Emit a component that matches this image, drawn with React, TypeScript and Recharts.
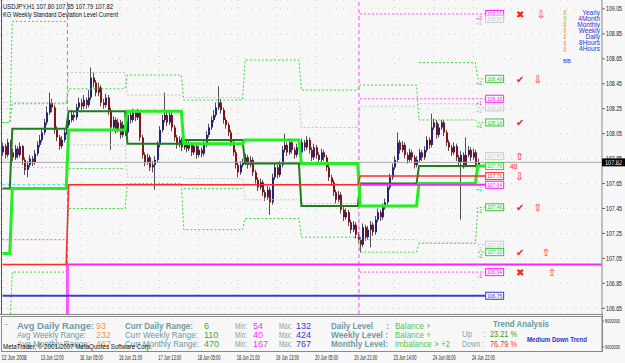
import React from "react";
import {
  ComposedChart,
  Bar,
  Line,
  XAxis,
  YAxis,
  CartesianGrid,
  ReferenceLine,
  ReferenceDot,
} from "recharts";

// USDJPY H1 candles
const closes = [
  107.95, 107.88, 107.98, 107.9, 107.86, 107.93, 107.88, 107.95, 107.84, 107.76,
  107.8, 107.85, 107.82, 107.89, 107.96, 108.0, 108.06, 108.14, 108.22, 108.3,
  108.26, 108.08, 108.02, 107.95, 108.0, 108.06, 108.12, 108.16, 108.2, 108.18,
  108.26, 108.3, 108.27, 108.32, 108.28, 108.34, 108.5, 108.46, 108.38, 108.42,
  108.3, 108.28, 108.34, 108.24, 108.1, 108.16, 108.08, 108.14, 108.04, 108.12,
  108.06, 108.2, 108.16, 108.22, 108.18, 108.22, 108.02, 107.88, 107.82, 107.86,
  107.78, 107.8, 107.84, 107.96, 108.08, 108.16, 108.2, 108.14, 108.2, 108.1,
  108.02, 107.96, 108.0, 107.94, 107.98, 107.93, 107.96, 107.9, 107.95, 107.88,
  107.92, 107.89, 107.96, 108.04, 108.1, 108.16, 108.2, 108.26, 108.3, 108.24,
  108.16, 108.12, 108.06, 107.98, 107.9, 107.8, 107.74, 107.8, 107.82, 107.86,
  107.8, 107.84, 107.74, 107.68, 107.62, 107.66, 107.58, 107.54, 107.6, 107.5,
  107.7, 107.78, 107.72, 107.8, 107.92, 107.96, 107.9, 107.98, 107.92, 107.88,
  107.94, 107.9, 107.98, 107.94, 108.0, 107.92, 107.86, 107.94, 107.88, 107.84,
  107.9, 107.86, 107.78, 107.7, 107.66, 107.58, 107.52, 107.56, 107.44, 107.38,
  107.42, 107.34, 107.28, 107.32, 107.24, 107.2, 107.16, 107.3, 107.22, 107.28,
  107.32, 107.26, 107.36, 107.42, 107.38, 107.46, 107.5, 107.62, 107.7, 107.78,
  107.84, 107.98, 107.92, 107.96, 107.88, 107.84, 107.9, 107.86, 107.8, 107.84,
  107.9, 107.86, 107.92, 108.0, 107.96, 108.1, 108.14, 108.04, 108.1, 108.14,
  108.06, 107.98, 107.94, 107.9, 107.95, 107.86, 107.82, 107.88, 107.8, 107.88,
  107.92, 107.86, 107.9, 107.8, 107.82,
];
const highs = [
  107.98, 107.97, 108.01, 108.0, 107.93, 107.96, 107.95, 107.98, 107.96, 107.86,
  107.83, 107.88, 107.87, 107.92, 107.99, 108.04, 108.09, 108.17, 108.27, 108.38,
  108.33, 108.28, 108.11, 108.04, 108.03, 108.09, 108.15, 108.19, 108.24, 108.23,
  108.29, 108.34, 108.33, 108.36, 108.34, 108.4, 108.58, 108.54, 108.48, 108.46,
  108.44, 108.33, 108.37, 108.36, 108.26, 108.19, 108.18, 108.17, 108.16, 108.15,
  108.14, 108.23, 108.22, 108.25, 108.24, 108.25, 108.24, 108.04, 107.9, 107.89,
  107.88, 107.83, 107.87, 107.99, 108.11, 108.2, 108.38, 108.23, 108.23, 108.22,
  108.12, 108.04, 108.03, 108.02, 108.01, 108.0, 107.99, 107.98, 107.98, 107.97,
  107.95, 107.94, 107.99, 108.07, 108.13, 108.19, 108.24, 108.3, 108.43, 108.33,
  108.26, 108.18, 108.14, 108.08, 108.0, 107.92, 107.82, 107.83, 107.85, 107.89,
  107.88, 107.87, 107.86, 107.76, 107.7, 107.69, 107.68, 107.6, 107.63, 107.62,
  107.73, 107.81, 107.8, 107.83, 107.95, 108.05, 107.98, 108.01, 108.0, 107.94,
  107.97, 107.96, 108.01, 108.0, 108.03, 108.02, 107.94, 107.97, 107.96, 107.9,
  107.93, 107.92, 107.88, 107.8, 107.72, 107.68, 107.6, 107.59, 107.58, 107.46,
  107.45, 107.44, 107.36, 107.35, 107.34, 107.26, 107.22, 107.33, 107.32, 107.31,
  107.35, 107.34, 107.39, 107.45, 107.44, 107.49, 107.53, 107.65, 107.73, 107.81,
  107.87, 108.06, 108.0, 107.99, 107.98, 107.9, 107.93, 107.92, 107.88, 107.87,
  107.93, 107.92, 107.95, 108.03, 108.02, 108.21, 108.17, 108.16, 108.13, 108.16,
  108.16, 108.08, 108.0, 107.96, 107.98, 107.97, 107.88, 107.91, 107.9, 108.02,
  107.95, 107.94, 107.93, 107.92, 107.85,
];
const lows = [
  107.87, 107.85, 107.86, 107.87, 107.83, 107.84, 107.85, 107.86, 107.8, 107.72,
  107.7, 107.78, 107.79, 107.8, 107.87, 107.94, 107.98, 108.04, 108.12, 108.2,
  108.22, 108.05, 107.99, 107.92, 107.93, 107.98, 108.04, 108.1, 108.14, 108.15,
  108.16, 108.24, 108.24, 108.25, 108.25, 108.26, 108.32, 108.42, 108.35, 108.35,
  108.27, 108.25, 108.26, 108.2, 107.92, 108.07, 108.05, 108.06, 108.01, 108.02,
  108.03, 108.04, 108.13, 108.14, 108.15, 108.16, 107.99, 107.85, 107.79, 107.8,
  107.75, 107.74, 107.6, 107.82, 107.94, 108.06, 108.14, 108.11, 108.12, 108.07,
  107.99, 107.93, 107.94, 107.91, 107.92, 107.9, 107.91, 107.87, 107.88, 107.85,
  107.86, 107.86, 107.87, 107.94, 108.02, 108.08, 108.14, 108.18, 108.24, 108.21,
  108.13, 108.09, 108.03, 107.95, 107.87, 107.77, 107.7, 107.72, 107.78, 107.8,
  107.77, 107.78, 107.71, 107.65, 107.59, 107.6, 107.55, 107.51, 107.52, 107.4,
  107.48, 107.68, 107.69, 107.7, 107.78, 107.9, 107.87, 107.88, 107.89, 107.85,
  107.86, 107.87, 107.88, 107.91, 107.92, 107.89, 107.83, 107.84, 107.85, 107.81,
  107.82, 107.83, 107.75, 107.67, 107.63, 107.55, 107.49, 107.5, 107.41, 107.35,
  107.36, 107.31, 107.25, 107.26, 107.21, 107.17, 107.1, 107.14, 107.19, 107.2,
  107.14, 107.23, 107.24, 107.34, 107.35, 107.36, 107.44, 107.48, 107.6, 107.68,
  107.76, 107.82, 107.89, 107.9, 107.85, 107.81, 107.82, 107.83, 107.77, 107.78,
  107.82, 107.83, 107.84, 107.9, 107.93, 107.94, 108.08, 108.01, 108.02, 108.08,
  108.03, 107.95, 107.91, 107.87, 107.88, 107.83, 107.79, 107.36, 107.77, 107.78,
  107.86, 107.83, 107.84, 107.78, 107.79,
];
const firstOpen = 107.9;

// daily levels (one value per day)
const dayStarts = [0, 4, 27, 51, 74, 99, 122, 146, 170, 194];
const brightLevel = [107.09, 107.61, 108.08, 108.23, 107.97, 108.0, 107.81, 107.47, 107.65, 107.79];
const darkLevel = [107.61, 108.09, 108.23, 107.97, 108.0, 107.81, 107.47, 107.65, 107.79, 107.79];
const dotHigh = [108.14, 108.29, 108.41, 108.52, 108.32, 108.64, 108.4, 108.44, 108.16, 108.14];
const dotLow = [106.5, 106.94, 107.45, 107.65, 107.28, 107.37, 107.22, 107.1, 107.17, 107.46];
const dotOuterHigh = [108.14, 108.95, null, null, null, null, null, null, 108.62, 108.49];
const dotOuterLow = [null, null, 107.77, null, 107.61, null, null, null, null, 107.1];
const grayHigh = [108.3, 108.3, 108.54, 108.36, 108.34, 108.32, 108.1, 108.27, 108.29, 108.26];
const grayLow = [107.84, 107.78, 107.96, 107.7, 107.69, 107.52, 107.49, 107.2, 107.18, 107.16];

// weekly levels (one value per week)
const weekStarts = [0, 27, 146];
const redLevel = [107.0, 107.64, 107.71];
const magentaLevel = [null, null, 107.64];
const weekUp2 = [null, null, 109.01];
const weekUp1 = [null, null, 108.33];
const weekDn1 = [107.2, null, 106.94];
const cyanLevel = [107.64, null, null];
const blueLevel = [106.75, 106.75, 106.75];
const monthBalance = 107.0;
const weekSeparators = [26.5, 145.5];
const lastBar = 197;

const priceTicks = [109.05, 108.85, 108.65, 108.45, 108.25, 108.05, 107.85, 107.65, 107.45, 107.25, 107.05, 106.85, 106.65];
const timeTickBars = [0, 16, 32, 48, 64, 80, 96, 112, 128, 144, 160, 176, 192];
const timeLabels = [
  "12 Jun 2008", "13 Jun 12:00", "16 Jun 05:00", "16 Jun 21:00", "17 Jun 13:00",
  "18 Jun 05:00", "18 Jun 21:00", "19 Jun 13:00", "20 Jun 05:00", "20 Jun 21:00",
  "23 Jun 14:00", "24 Jun 06:00", "24 Jun 22:00",
];

const levelLabels = [
  { price: 109.01, text: "109.01", color: "#ff22ff" },
  { price: 108.97, text: "108.97", color: "#cccccc" },
  { price: 108.49, text: "108.49", color: "#33cc33" },
  { price: 108.33, text: "108.33", color: "#ff22ff" },
  { price: 108.26, text: "108.26", color: "#cccccc" },
  { price: 108.14, text: "108.14", color: "#33cc33" },
  { price: 107.87, text: "107.87", color: "#cccccc" },
  { price: 107.79, text: "107.79", color: "#33cc33" },
  { price: 107.71, text: "107.71", color: "#ff3030" },
  { price: 107.64, text: "107.64", color: "#ff22ff" },
  { price: 107.46, text: "107.46", color: "#33cc33" },
  { price: 107.16, text: "107.16", color: "#cccccc" },
  { price: 107.1, text: "107.10", color: "#33cc33" },
  { price: 106.94, text: "106.94", color: "#ff22ff" },
  { price: 106.75, text: "106.75", color: "#3c3cd0" },
];
const levelMarks = [
  { price: 109.01, text: "+2", color: "#ff22ff" },
  { price: 108.97, text: "+1", color: "#bbbbbb" },
  { price: 108.49, text: "+2", color: "#33cc33" },
  { price: 108.33, text: "+1", color: "#ff22ff" },
  { price: 108.26, text: "+1", color: "#bbbbbb" },
  { price: 108.14, text: "+1", color: "#33cc33" },
  { price: 107.64, text: "+2", color: "#00cccc" },
  { price: 107.46, text: "-1", color: "#33cc33" },
  { price: 107.16, text: "-1", color: "#bbbbbb" },
  { price: 107.1, text: "-2", color: "#33cc33" },
  { price: 106.94, text: "-1", color: "#ff22ff" },
];
const signals = [
  { price: 109.01, bar: 211.3, sym: "✖" },
  { price: 109.01, bar: 219.8, sym: "⇩" },
  { price: 108.49, bar: 211.3, sym: "✔" },
  { price: 108.49, bar: 218.5, sym: "⇩" },
  { price: 108.14, bar: 211.3, sym: "✔" },
  { price: 107.87, bar: 211.0, sym: "⇧" },
  { price: 107.71, bar: 211.0, sym: "⇩" },
  { price: 107.46, bar: 211.3, sym: "✔" },
  { price: 107.46, bar: 218.5, sym: "⇧" },
  { price: 107.1, bar: 211.3, sym: "✔" },
  { price: 107.1, bar: 221.8, sym: "⇧" },
  { price: 106.94, bar: 211.3, sym: "✖" },
  { price: 106.94, bar: 224.3, sym: "⇧" },
];
const legendItems = ["Yearly", "4Month", "Monthly", "Weekly", "Daily", "8Hours", "4Hours"];

const periodOf = (starts: number[], i: number) => {
  let k = 0;
  starts.forEach((s, j) => {
    if (i >= s) k = j;
  });
  return k;
};

const rows = Array.from({ length: lastBar + 1 }, (_, i) => {
  const d = periodOf(dayStarts, i);
  const w = periodOf(weekStarts, i);
  const has = i < closes.length;
  return {
    i,
    open: has ? (i === 0 ? firstOpen : closes[i - 1]) : null,
    high: has ? highs[i] : null,
    low: has ? lows[i] : null,
    close: has ? closes[i] : null,
    range: has ? [lows[i], highs[i]] : null,
    bright: brightLevel[d],
    dark: darkLevel[d],
    dotHigh: dotHigh[d],
    dotLow: dotLow[d],
    dotOuterHigh: dotOuterHigh[d],
    dotOuterLow: dotOuterLow[d],
    grayHigh: grayHigh[d],
    grayLow: grayLow[d],
    red: redLevel[w],
    magenta: magentaLevel[w],
    weekUp2: weekUp2[w],
    weekUp1: weekUp1[w],
    weekDn1: weekDn1[w],
    cyan: cyanLevel[w],
    blue: blueLevel[w],
  };
});

const lastClose = closes[closes.length - 1];
const SANS = "'Liberation Sans', Arial, sans-serif";
const SYM = "'DejaVu Sans', sans-serif";

const Candle = (props: any) => {
  const { x, y, width, height, payload } = props;
  if (!payload || payload.high == null) return <g />;
  const top = Math.min(y, y + height);
  const bot = Math.max(y, y + height);
  const span = payload.high - payload.low || 0.0001;
  const py = (v: number) => top + ((payload.high - v) / span) * (bot - top);
  const rx = Math.round(x + width / 2);
  const yo = py(payload.open);
  const yc = py(payload.close);
  const up = payload.close >= payload.open;
  return (
    <g>
      <line x1={rx + 0.5} x2={rx + 0.5} y1={top} y2={bot} stroke="#505050" strokeWidth={1} />
      <rect
        x={rx}
        y={Math.min(yo, yc)}
        width={2}
        height={Math.max(1, Math.abs(yc - yo))}
        fill={up ? "#23237a" : "#8a1212"}
      />
    </g>
  );
};

const PriceTick = (props: any) => {
  const { y, payload } = props;
  return (
    <g>
      <line x1={602} x2={605} y1={y} y2={y} stroke="#666" />
      <text x={606} y={y + 2.3} fontSize={6.5} fontFamily={SANS} fill="#222" textLength={16} lengthAdjust="spacingAndGlyphs">
        {payload.value.toFixed(2)}
      </text>
    </g>
  );
};

const TimeTick = (props: any) => {
  const { x, payload } = props;
  const k = timeTickBars.indexOf(payload.value);
  return (
    <text x={x - 1} y={359.5} fontSize={6.5} fontFamily={SANS} fill="#222" textLength={k === 0 ? 25 : 23} lengthAdjust="spacingAndGlyphs">
      {timeLabels[k]}
    </text>
  );
};

const T = ({ x, y, w, size = 9, color = "#6f9aa3", bold = false, anchor = "start", font = SANS, children }: any) => (
  <text
    x={x}
    y={y}
    fontSize={size}
    fill={color}
    fontWeight={bold ? "bold" : "normal"}
    fontFamily={font}
    textAnchor={anchor}
    textLength={w}
    lengthAdjust={w ? "spacingAndGlyphs" : undefined}
  >
    {children}
  </text>
);

const lineProps = { dot: false, activeDot: false, isAnimationActive: false, legendType: "none" as const };

export default function App() {
  const label = "#6f9aa3";
  const mm = "#86a6ad";
  const orange = "#f29b3a";
  const grn = "#3aaa3a";
  const mag = "#ff33ff";
  const blu = "#3a3ad0";
  return (
    <div style={{ position: "absolute", left: 0, top: 0, width: 625, height: 363, background: "#f7f7f7" }}>
      <ComposedChart width={625} height={363} data={rows} margin={{ top: 0, right: 0, bottom: 0, left: 0 }}>
        <CartesianGrid stroke="#d2d2d2" strokeDasharray="1 6" />
        <XAxis
          dataKey="i"
          type="number"
          domain={[-1.02, 244.7]}
          ticks={timeTickBars}
          interval={0}
          tick={<TimeTick />}
          tickLine={false}
          axisLine={false}
          height={49}
          allowDataOverflow
        />
        <YAxis
          orientation="right"
          type="number"
          width={23}
          domain={[106.604, 109.122]}
          ticks={priceTicks}
          interval={0}
          tick={<PriceTick />}
          tickLine={false}
          axisLine={{ stroke: "#8a8a8a" }}
          allowDataOverflow
        />

        {weekSeparators.map((b) => (
          <ReferenceLine key={b} x={b} stroke="#ff44ff" strokeDasharray="4 3" />
        ))}
        <ReferenceLine y={lastClose} stroke="#a8a8a8" />

        <Line dataKey="grayHigh" stroke="#c4c4c4" strokeDasharray="2 2" {...lineProps} />
        <Line dataKey="grayLow" stroke="#c4c4c4" strokeDasharray="2 2" {...lineProps} />
        <Line dataKey="dotHigh" stroke="#3ad83a" strokeDasharray="2 2" {...lineProps} />
        <Line dataKey="dotLow" stroke="#3ad83a" strokeDasharray="2 2" {...lineProps} />
        <Line dataKey="dotOuterHigh" stroke="#3ad83a" strokeDasharray="2 2" {...lineProps} />
        <Line dataKey="dotOuterLow" stroke="#3ad83a" strokeDasharray="2 2" {...lineProps} />
        <Line dataKey="weekUp2" stroke="#ff44ff" strokeDasharray="2 2" {...lineProps} />
        <Line dataKey="weekUp1" stroke="#ff44ff" strokeDasharray="2 2" {...lineProps} />
        <Line dataKey="weekDn1" stroke="#ff44ff" strokeDasharray="2 2" {...lineProps} />
        <Line dataKey="cyan" stroke="#22dddd" strokeDasharray="3 2" {...lineProps} />

        <ReferenceLine segment={[{ x: 26.5, y: monthBalance }, { x: 244.7, y: monthBalance }]} stroke="#ff22ff" strokeWidth={2} />
        <ReferenceLine segment={[{ x: 26.5, y: monthBalance }, { x: 26.5, y: 106.604 }]} stroke="#ff55ff" strokeWidth={3} />
        <Line dataKey="blue" stroke="#3c3cd0" strokeWidth={2} {...lineProps} />

        <Bar dataKey="range" barSize={2} shape={Candle} isAnimationActive={false} legendType="none" />

        <Line dataKey="dark" stroke="#1f7d1f" strokeWidth={2} {...lineProps} />
        <Line dataKey="bright" stroke="#22ee22" strokeWidth={3} {...lineProps} />
        <Line dataKey="magenta" stroke="#ff22ff" strokeWidth={2} {...lineProps} />
        <Line dataKey="red" stroke="#ff2a2a" strokeWidth={1.5} {...lineProps} />

        {levelLabels.map((l) => (
          <ReferenceDot
            key={"lb" + l.text}
            x={197}
            y={l.price}
            ifOverflow="visible"
            shape={(p: any) => (
              <g>
                <rect x={p.cx + 0.5} y={p.cy - 3.5} width={18} height={7} fill="#f7f7f7" stroke={l.color} strokeWidth={1} />
                <text x={p.cx + 2} y={p.cy + 2.2} fontSize={5.5} fontFamily={SANS} fill={l.color} textLength={15} lengthAdjust="spacingAndGlyphs">
                  {l.text}
                </text>
              </g>
            )}
          />
        ))}
        <ReferenceDot
          x={207}
          y={107.79}
          ifOverflow="visible"
          shape={(p: any) => (
            <text x={p.cx} y={p.cy + 3} fontSize={7} fontFamily={SANS} fill="#ff3030">
              48
            </text>
          )}
        />
        {levelMarks.map((m) => (
          <ReferenceDot
            key={"mk" + m.price + m.text}
            x={195.8}
            y={m.price}
            ifOverflow="visible"
            shape={(p: any) => (
              <text x={p.cx} y={p.cy + 6} fontSize={5.5} fontFamily={SANS} fill={m.color} textAnchor="end">
                {m.text}
              </text>
            )}
          />
        ))}
        {signals.map((s, k) => (
          <ReferenceDot
            key={"sg" + k}
            x={s.bar}
            y={s.price}
            ifOverflow="visible"
            shape={(p: any) => (
              <text x={p.cx} y={p.cy + 4} fontSize={10} fontFamily={SYM} fill="#ff2020" textAnchor="middle">
                {s.sym}
              </text>
            )}
          />
        ))}
        <ReferenceDot
          x={244.7}
          y={lastClose}
          ifOverflow="visible"
          shape={(p: any) => (
            <g>
              <rect x={p.cx} y={p.cy - 4} width={23} height={8} fill="#000" />
              <text x={p.cx + 3} y={p.cy + 2.4} fontSize={6.5} fontFamily={SANS} fill="#fff" textLength={17} lengthAdjust="spacingAndGlyphs">
                {lastClose.toFixed(2)}
              </text>
            </g>
          )}
        />
      </ComposedChart>

      <svg width={625} height={363} style={{ position: "absolute", left: 0, top: 0, pointerEvents: "none" }}>
        <line x1={1.5} x2={1.5} y1={0} y2={314} stroke="#555" />
        <line x1={0} x2={602} y1={314.5} y2={314.5} stroke="#888" />
        <rect x={1.5} y={316.5} width={600.5} height={35} fill="#f7f7f7" stroke="#8a8a8a" />
        <line x1={602.5} x2={602.5} y1={314} y2={352} stroke="#8a8a8a" />
        <line x1={602} x2={604} y1={321} y2={321} stroke="#666" />
        <line x1={602} x2={604} y1={347} y2={347} stroke="#666" />
        <T x={605} y={323} size={5.5} color="#222" w={15}>8000000</T>
        <T x={605} y={349} size={5.5} color="#222" w={15}>9000000</T>

        <T x={3} y={8.5} size={7} color="#111" w={110}>USDJPY,H1  107.80 107.85 107.79 107.82</T>
        <T x={3} y={16.5} size={7} color="#111" w={115}>KG Weekly Standard Deviation Level Current</T>

        {legendItems.map((name, k) => (
          <g key={name}>
            <T x={600} y={14.5 + k * 6.1} size={6.5} color="#3636c4" anchor="end">{name}</T>
            <T x={565} y={15 + k * 6.1} size={7} color={k === 1 ? "#33cc33" : "#f0a030"} anchor="middle" font={SYM}>
              {k === 1 ? "⇧" : "⇕"}
            </T>
          </g>
        ))}
        <T x={563} y={63} size={6} color="#3636c4">BB</T>

        <T x={4} y={327} size={7} color="#888">~</T>
        <T x={17} y={329} w={77} bold color={label}>Avg Daily Range:</T>
        <T x={96} y={329} color={orange}>93</T>
        <T x={125} y={329} w={68} bold color={label}>Curr Daily Range:</T>
        <T x={204} y={329} color={grn}>6</T>
        <T x={235} y={329} w={12} color={mm}>Min:</T>
        <T x={253} y={329} color={mag}>54</T>
        <T x={279} y={329} w={13} color={mm}>Max:</T>
        <T x={296} y={329} color={blu}>132</T>

        <T x={17} y={337.8} w={69} color={label}>Avg Weekly Range:</T>
        <T x={96} y={337.8} color={orange}>232</T>
        <T x={125} y={337.8} w={73} color={label}>Curr Weekly Range:</T>
        <T x={204} y={337.8} color={grn}>110</T>
        <T x={235} y={337.8} w={12} color={mm}>Min:</T>
        <T x={253} y={337.8} color={mag}>40</T>
        <T x={279} y={337.8} w={13} color={mm}>Max:</T>
        <T x={296} y={337.8} color={blu}>424</T>

        <T x={17} y={346.6} w={73} color={label}>Avg Monthly Range:</T>
        <T x={96} y={346.6} color={orange}>467</T>
        <T x={125} y={346.6} w={74} color={label}>Curr Monthly Range:</T>
        <T x={204} y={346.6} color={grn}>470</T>
        <T x={235} y={346.6} w={12} color={mm}>Min:</T>
        <T x={253} y={346.6} color={mag}>167</T>
        <T x={279} y={346.6} w={13} color={mm}>Max:</T>
        <T x={296} y={346.6} color={blu}>767</T>
        <T x={3} y={348.5} size={7} w={149} color="#111">MetaTrader, © 2001-2007 MetaQuotes Software Corp.</T>

        <T x={331} y={329} w={42} bold color={label}>Daily Level</T>
        <T x={386} y={329} bold color={label}>:</T>
        <T x={395} y={329} w={36} color="#55c855">Balance +</T>
        <T x={331} y={337.8} w={57} bold color={label}>Weekly Level :</T>
        <T x={395} y={337.8} w={36} color="#55c855">Balance +</T>
        <T x={331} y={346.6} w={57} bold color={label}>Monthly Level:</T>
        <T x={395} y={346.6} w={55} color="#55c855">Imbalance &gt; +2</T>

        <T x={493} y={326.5} w={56} bold color="#5f9ea0">Trend Analysis</T>
        <T x={462} y={337} w={10} color={mm}>Up</T>
        <T x={483} y={337} color={mm}>:</T>
        <T x={490} y={337} w={27} color="#2f9f2f">23.21 %</T>
        <T x={462} y={347} w={22} color={mm}>Down :</T>
        <T x={490} y={347} w={27} color="#ff3030">76.79 %</T>
        <T x={527} y={341.5} w={60} size={7} bold color="#3030c8">Medium Down Trend</T>
      </svg>
    </div>
  );
}
